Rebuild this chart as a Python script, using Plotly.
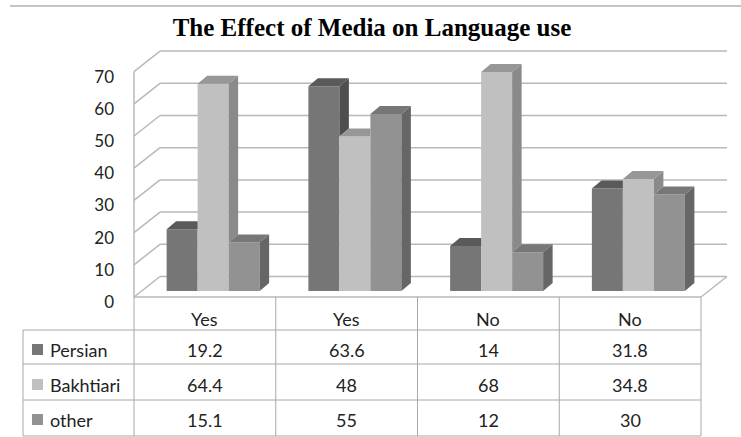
import plotly.graph_objects as go

# ---------------- data ----------------
categories = ["Yes", "Yes", "No", "No"]
series_names = ["Persian", "Bakhtiari", "other"]
persian = [19.2, 63.6, 14, 31.8]
bakhtiari = [64.4, 48, 68, 34.8]
other = [15.1, 55, 12, 30]
y_ticks = [0, 10, 20, 30, 40, 50, 60, 70]

values = [persian, bakhtiari, other]
front_colors = ["#767676", "#c0c0c0", "#929292"]
top_colors = ["#5a5a5a", "#979797", "#777777"]
side_colors = ["#4e4e4e", "#8a8a8a", "#666666"]

# ---------------- geometry ----------------
W, H = 741, 437
PX_X = 141.75          # pixels per category
X0_PIX = 134           # pixel of x = -0.5
PX_Y = 3.22            # pixels per value unit
Y0_PIX = 297           # pixel of value 0 (front plane)

def xp(px):            # pixel -> paper x
    return px / W

def yp(py):            # pixel -> paper y
    return 1 - py / H

x_range = [-0.5 - X0_PIX / PX_X, -0.5 + (W - X0_PIX) / PX_X]
y_range = [-(H - Y0_PIX) / PX_Y, Y0_PIX / PX_Y]

FDX, FDY = 26 / PX_X, 20.5 / PX_Y     # floor / wall depth
BDX, BDY = 9.5 / PX_X, 8 / PX_Y       # bar depth
FX, FY = 8.25 / PX_X, 6 / PX_Y        # bar front offset
BW = 31 / PX_X                        # bar width
n_cat = len(categories)
ymax = max(y_ticks)

grid_col = "#b9b9b9"
table_col = "#a8a8a8"
font_family = "Lato, 'Open Sans', sans-serif"

fig = go.Figure()
shapes = []

# walls / gridlines (below traces)
for v in y_ticks:
    shapes.append(dict(type="line", xref="x", yref="y", layer="below",
                       x0=-0.5 + FDX, x1=n_cat - 0.5 + FDX, y0=v + FDY, y1=v + FDY,
                       line=dict(color=grid_col, width=1.5)))
    shapes.append(dict(type="line", xref="x", yref="y", layer="below",
                       x0=-0.5, x1=-0.5 + FDX, y0=v, y1=v + FDY,
                       line=dict(color=grid_col, width=1.5)))
shapes.append(dict(type="line", xref="x", yref="y", layer="below",
                   x0=-0.5, x1=-0.5, y0=0, y1=ymax,
                   line=dict(color=grid_col, width=1.5)))
shapes.append(dict(type="line", xref="x", yref="y", layer="below",
                   x0=-0.5, x1=n_cat - 0.5, y0=0, y1=0,
                   line=dict(color=grid_col, width=1.5)))
shapes.append(dict(type="line", xref="x", yref="y", layer="below",
                   x0=n_cat - 0.5, x1=n_cat - 0.5 + FDX, y0=0, y1=FDY,
                   line=dict(color=grid_col, width=1.5)))

# ---------------- bars ----------------
lefts = [[i - 1.5 * BW + k * BW + FX for i in range(n_cat)] for k in range(3)]
for k in range(3):
    fig.add_trace(go.Bar(
        x=[l + BW / 2 for l in lefts[k]], y=values[k], base=FY, width=BW,
        name=series_names[k], marker=dict(color=front_colors[k], line=dict(width=0)),
        showlegend=False, hoverinfo="skip"))

# 3D side and top faces
for k in range(3):
    sx, sy, tx, ty = [], [], [], []
    for i in range(n_cat):
        L = lefts[k][i]
        R = L + BW
        h = values[k][i] + FY
        b = FY
        hn = values[k + 1][i] + FY if k < 2 else None
        # side face (visible part only)
        low = b if hn is None else max(b, hn)
        if low < h:
            sx += [R, R + BDX, R + BDX, R, R, None]
            sy += [low, low + BDY, h + BDY, h, low, None]
        # top face (clipped by taller neighbour front)
        if hn is None or hn <= h:
            tx += [L, R, R + BDX, L + BDX, L, None]
            ty += [h, h, h + BDY, h + BDY, h, None]
        elif hn >= h + BDY:
            tx += [L, R, R, L + BDX, L, None]
            ty += [h, h, h + BDY, h + BDY, h, None]
        else:
            f = (hn - h) / BDY
            tx += [L, R, R, R + BDX * f, R + BDX, L + BDX, L, None]
            ty += [h, h, hn, hn, h + BDY, h + BDY, h, None]
    fig.add_trace(go.Scatter(x=sx, y=sy, mode="lines", fill="toself",
                             fillcolor=side_colors[k], line=dict(width=0),
                             showlegend=False, hoverinfo="skip"))
    fig.add_trace(go.Scatter(x=tx, y=ty, mode="lines", fill="toself",
                             fillcolor=top_colors[k], line=dict(width=0),
                             showlegend=False, hoverinfo="skip"))

# ---------------- data table ----------------
row_lines = [330, 364, 400, 436]
tab_left, tab_right = 23, 701
for py in row_lines:
    shapes.append(dict(type="line", xref="paper", yref="paper",
                       x0=xp(tab_left), x1=xp(tab_right), y0=yp(py), y1=yp(py),
                       line=dict(color=table_col, width=1)))
shapes.append(dict(type="line", xref="paper", yref="paper",
                   x0=xp(tab_left), x1=xp(tab_left), y0=yp(row_lines[0]), y1=yp(row_lines[-1]),
                   line=dict(color=table_col, width=1)))
for i in range(n_cat + 1):
    shapes.append(dict(type="line", xref="x", yref="paper",
                       x0=i - 0.5, x1=i - 0.5, y0=yp(Y0_PIX), y1=yp(row_lines[-1]),
                       line=dict(color=table_col, width=1)))

annotations = []
header_y = 319
row_y = [350, 385, 420]
for i, c in enumerate(categories):
    annotations.append(dict(x=i, y=yp(header_y), xref="x", yref="paper", text=c,
                            showarrow=False, xanchor="center", yanchor="middle",
                            font=dict(family=font_family, size=18, color="#222222")))
for k in range(3):
    shapes.append(dict(type="rect", xref="paper", yref="paper",
                       x0=xp(32), x1=xp(43), y0=yp(row_y[k] - 6), y1=yp(row_y[k] + 5),
                       fillcolor=front_colors[k], line=dict(width=0)))
    annotations.append(dict(x=xp(48), y=yp(row_y[k]), xref="paper", yref="paper",
                            text=series_names[k], showarrow=False, xanchor="left",
                            yanchor="middle",
                            font=dict(family=font_family, size=18, color="#222222")))
    for i in range(n_cat):
        annotations.append(dict(x=i, y=yp(row_y[k]), xref="x", yref="paper",
                                text=f"{values[k][i]:g}", showarrow=False,
                                xanchor="center", yanchor="middle",
                                font=dict(family=font_family, size=18, color="#222222")))

# top border line
shapes.append(dict(type="line", xref="paper", yref="paper",
                   x0=xp(10), x1=1, y0=yp(6), y1=yp(6),
                   line=dict(color="#c4c4c4", width=2)))

fig.update_layout(
    width=W, height=H,
    margin=dict(l=0, r=0, t=0, b=0),
    paper_bgcolor="white", plot_bgcolor="white",
    barmode="overlay",
    title=dict(text="The Effect of Media on Language use",
               x=372 / W, y=yp(27), xanchor="center", yanchor="middle",
               font=dict(family="'Liberation Serif', 'Times New Roman', serif",
                         size=25, color="#000000", weight="bold")),
    xaxis=dict(range=x_range, domain=[0, 1], visible=False, fixedrange=True),
    yaxis=dict(range=y_range, domain=[0, 1], anchor="free", position=X0_PIX / W,
               tickvals=y_ticks, ticktext=[str(t) for t in y_ticks],
               showgrid=False, zeroline=False, showline=False, ticks="",
               ticklabelstandoff=20, ticklabelshift=5,
               tickfont=dict(family=font_family, size=17, color="#222222"),
               fixedrange=True),
    shapes=shapes,
    annotations=annotations,
)

fig.write_html("out.html")
